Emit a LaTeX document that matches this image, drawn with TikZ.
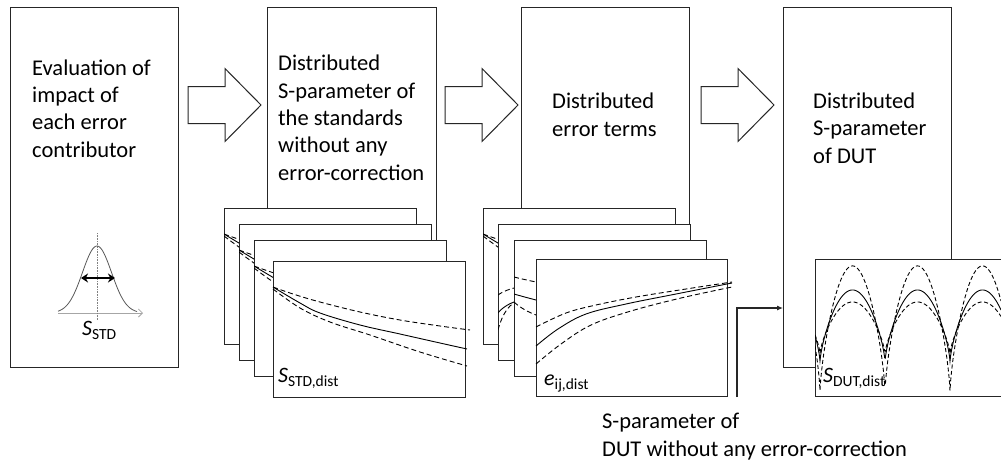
\documentclass[tikz,border=0pt]{standalone}
\usepackage{fontspec}
\setmainfont{Carlito}
\usetikzlibrary{arrows.meta}

% symbol with a lowered subscript, as used on the small charts
\newcommand\symsub[2]{{\fontsize{22}{22}\selectfont\itshape #1}{\fontsize{15.5}{15.5}\selectfont\raisebox{-4pt}{#2}}}

\begin{document}
\begin{tikzpicture}[x=1pt,y=-1pt,
  stagebox/.style={draw=black!85, line width=1.1pt, fill=white, minimum width=168pt,
    minimum height=360pt, inner sep=0pt, anchor=north west},
  chartbox/.style={draw=black!85, line width=1.1pt, fill=white, minimum width=192pt,
    minimum height=136pt, inner sep=0pt, anchor=north west},
  stagetext/.style={font=\fontsize{22.5}{27.3}\selectfont, align=left, inner sep=0pt, anchor=base west},
  curve/.style={line width=0.9pt, black},
  dcurve/.style={line width=0.9pt, black, dash pattern=on 5pt off 3pt},
  conn/.style={line width=1.1pt, black!85, -{Latex[length=6pt,width=5pt]}},
  blockarrow/.pic={\draw[line width=1pt, draw=black!85, fill=white]
    (0,-18.5) -- (37,-18.5) -- (37,-36.5) -- (73,0) -- (37,36.5) -- (37,18.5) -- (0,18.5) -- cycle;},
  stdcurves/.pic={
    \draw[curve] plot[smooth, tension=0.6] coordinates {(0,26) (27,42) (47,52) (87,64) (127,73) (167,82) (194,88)};
    \draw[dcurve] plot[smooth, tension=0.6] coordinates {(0,26) (20,33) (47,41) (87,51) (127,59) (167,65) (197,69)};
    \draw[dcurve] plot[smooth, tension=0.6] coordinates {(0,28) (27,47) (57,61) (97,74) (147,91) (194,105)};
  }]

\clip (0,0) rectangle (1001,464);
\fill[white] (0,0) rectangle (1001,464);

% process stages
\node[stagebox] (b1) at (10,7) {};
\node[stagebox, minimum width=169pt] (b2) at (267,7) {};
\node[stagebox] (b3) at (521,7) {};
\node[stagebox] (b4) at (783,7) {};

% stage texts, placed by the baseline of their last line
\node[stagetext] (t1) at (32,157) {Evaluation of\\impact of\\each error\\contributor};
\node[stagetext] (t2) at (278,180) {Distributed\\S-parameter of\\the standards\\without any\\error-correction};
\node[stagetext] (t3) at (552,136) {Distributed\\error terms};
\node[stagetext] (t4) at (813,163) {Distributed\\S-parameter\\of DUT};

% block arrows between the stages
\pic at (188,105) {blockarrow};
\pic at (445,105) {blockarrow};
\pic at (701,105) {blockarrow};

% distribution sketch in the first stage
\draw[gray!70, line width=0.8pt, -{Straight Barb[length=4pt]}] (58,313) -- (143,313);
\draw[gray, densely dotted, line width=0.6pt] (97,233) -- (97,320);
\draw[gray!70!black, line width=0.8pt] plot[domain=58:137, samples=60]
  (\x, {313 - 67*exp(-((\x-97)/14.5)^2/2)});
\draw[line width=2.4pt, {Stealth[length=7pt,width=9pt]}-{Stealth[length=7pt,width=9pt]}] (81,278) -- (115,278);
\node[inner sep=0pt, anchor=base west] (l1) at (82,335) {\symsub{S}{STD}};

% stacked charts of the standards
\foreach \cx/\cy [count=\k] in {224/208, 239/224, 254/240, 273/261} {
  \node[chartbox] (s\k) at (\cx,\cy) {};
  \begin{scope}
    \ifnum\k<4 \clip (\cx,\cy) rectangle ++(192,136); \fi
    \pic at (\cx,\cy) {stdcurves};
  \end{scope}
}
\node[inner sep=0pt, anchor=base west] (l2) at (278,382) {\symsub{S}{STD,dist}};

% stacked charts of the error terms
\node[chartbox] (e1) at (483,208) {};
\begin{scope}
  \clip (483,208) rectangle ++(192,136);
  \pic at (483,208) {stdcurves};
\end{scope}
\node[chartbox] (e2) at (498,224) {};
\begin{scope}[shift={(498,224)}]
  \clip (0,0) rectangle (192,136);
  \draw[dcurve] plot[smooth] coordinates {(0,71) (16,64) (80,50) (192,32)};
  \draw[curve] plot[smooth] coordinates {(0,89) (16,78) (80,60) (192,36)};
  \draw[dcurve] plot[smooth] coordinates {(0,106) (16,79) (80,64) (192,40)};
\end{scope}
\node[chartbox] (e3) at (514,240) {};
\begin{scope}[shift={(514,240)}]
  \clip (0,0) rectangle (192,136);
  \draw[dcurve] plot[smooth] coordinates {(0,37) (22,42) (100,58) (192,70)};
  \draw[curve] plot[smooth] coordinates {(0,54) (22,60) (100,80) (192,95)};
  \draw[dcurve] plot[smooth] coordinates {(0,62) (22,75) (100,98) (192,115)};
\end{scope}
\node[chartbox, minimum width=191pt, minimum height=137pt] (e4) at (536,259) {};
\begin{scope}[shift={(536,259)}]
  \draw[dcurve] plot[smooth, tension=0.6] coordinates {(0,68) (30,54) (60,46) (100,38) (150,30) (196,23)};
  \draw[curve] plot[smooth, tension=0.6] coordinates {(0,87) (22,70) (50,55) (90,45) (140,35) (196,24)};
  \draw[dcurve] plot[smooth, tension=0.6] coordinates {(0,105) (25,85) (55,66) (95,52) (145,39) (196,28)};
\end{scope}
\node[inner sep=0pt, anchor=base west] (l3) at (544,385) {\symsub{e}{ij,dist}};

% chart of the corrected DUT
\node[chartbox, minimum width=200pt, minimum height=137pt] (d1) at (815,259) {};
\begin{scope}
  \clip (815,259) rectangle (1015,396);
  \draw[dcurve, dash pattern=on 4pt off 2.5pt] plot[domain=815:1001, samples=300]
    (\x, {392 - 126*exp(0.7*ln(abs(sin((\x-820)/65*180))+0.001))});
  \draw[curve] plot[domain=815:1001, samples=300]
    (\x, {362 - 72*exp(0.7*ln(abs(sin((\x-820)/65*180))+0.001))});
  \draw[dcurve, dash pattern=on 4pt off 2.5pt] plot[domain=815:1001, samples=300]
    (\x, {354 - 52*exp(0.7*ln(abs(sin((\x-820)/65*180))+0.001))});
\end{scope}
\node[inner sep=0pt, anchor=base west] (l4) at (823,382) {\symsub{S}{DUT,dist}};

% raw DUT data entering the last stage
\coordinate (inp) at (737,397);
\coordinate (bend) at (737,308);
\draw[conn] (inp) -- (bend) -- (bend -| b4.west);
\node[stagetext] (t5) at (602,456) {S-parameter of\\DUT without any error-correction};

\end{tikzpicture}
\end{document}
